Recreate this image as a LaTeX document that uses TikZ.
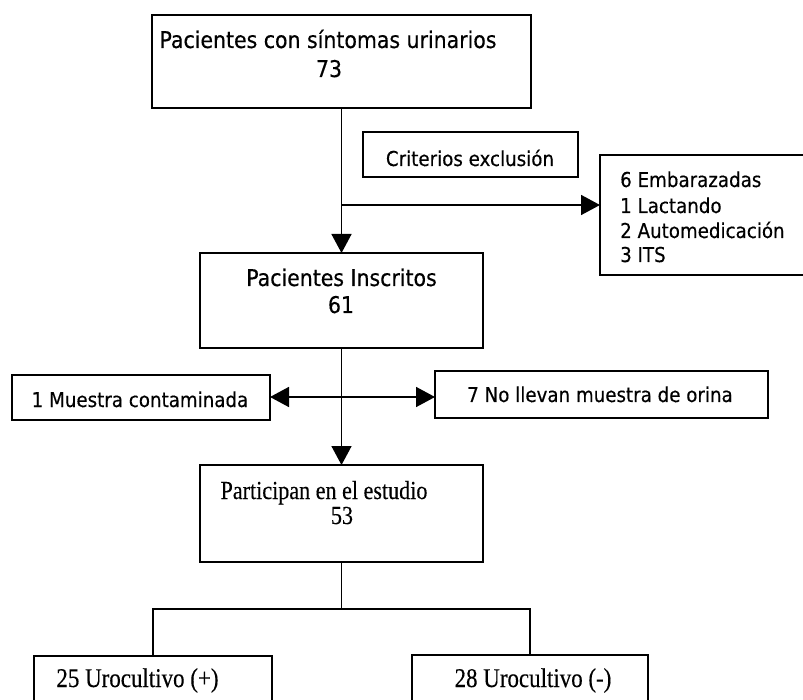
\documentclass[tikz,border=0pt]{standalone}
\usepackage{fontspec}
\usetikzlibrary{arrows.meta}
\newfontfamily\sfA[FakeStretch=0.89,FakeBold=0.35]{DejaVu Sans}
\newfontfamily\rmA[FakeStretch=0.85,FakeBold=0.3]{Liberation Serif}
\begin{document}
\begin{tikzpicture}[x=1pt,y=-1pt,
  box/.style={draw, line width=1.6pt, inner sep=0pt, outer sep=0pt},
  big/.style={font=\sfA\fontsize{23}{28}\selectfont, inner sep=0pt, anchor=base},
  small/.style={font=\sfA\fontsize{20.5}{25}\selectfont, inner sep=0pt, anchor=base},
  serif/.style={font=\rmA\fontsize{27}{30}\selectfont, inner sep=0pt, anchor=base},
  conn/.style={line width=1.6pt},
  arr/.style={line width=1.6pt, -{Triangle[length=19pt,width=20pt]}}]
\useasboundingbox (0,0) rectangle (803,700);
\clip (0,0) rectangle (803,700);
% boxes
\node[box, minimum width=379pt, minimum height=93pt] (top) at (341.5,61.5) {};
\node[box, minimum width=215pt, minimum height=45pt] (crit) at (470.5,154.5) {};
\node[box, minimum width=230pt, minimum height=120pt] (excl) at (715,215) {};
\node[box, minimum width=283pt, minimum height=95pt] (ins) at (341.5,300.5) {};
\node[box, minimum width=258pt, minimum height=45pt] (mue) at (141,397.5) {};
\node[box, minimum width=333pt, minimum height=47pt] (nol) at (601.5,394.5) {};
\node[box, minimum width=283pt, minimum height=97pt] (par) at (341.5,513.5) {};
\node[box, minimum width=238pt, minimum height=70pt] (uro1) at (153,691) {};
\node[box, minimum width=236pt, minimum height=70pt] (uro2) at (530,690) {};
% texts
\node[big] (topa) at (328,48) {Pacientes con síntomas urinarios};
\node[big] (topb) at (329,77) {73};
\node[small] (crita) at (470,166) {Criterios exclusión};
\node[small, anchor=base west] (e1) at (620,187) {6 Embarazadas};
\node[small, anchor=base west] (e2) at (620,213) {1 Lactando};
\node[small, anchor=base west] (e3) at (620,238) {2 Automedicación};
\node[small, anchor=base west] (e4) at (620,262) {3 ITS};
\node[big] (insa) at (341.5,286) {Pacientes Inscritos};
\node[big] (insb) at (341,313) {61};
\node[small] (muea) at (140,407) {1 Muestra contaminada};
\node[small] (nola) at (600,402) {7 No llevan muestra de orina};
\node[serif, font=\rmA\fontsize{26}{30}\selectfont] (para) at (324,499) {Participan en el estudio};
\node[serif, font=\rmA\fontsize{26}{30}\selectfont] (parb) at (342,524) {53};
\node[serif] (uro1a) at (137.5,687) {25 Urocultivo (+)};
\node[serif] (uro2a) at (533,687) {28 Urocultivo (-)};
% connectors
\coordinate (j1) at (341.5,205);
\coordinate (j2) at (341.5,397);
\coordinate (j3) at (341.5,609);
\draw[arr] (top.south) -- (ins.north);
\draw[arr] (j1) -- (j1 -| excl.west);
\draw[arr] (ins.south) -- (par.north);
\draw[arr] (j2) -- (j2 -| mue.east);
\draw[arr] (j2) -- (j2 -| nol.west);
\draw[conn] (par.south) -- (j3);
\draw[conn] (uro1.north) |- (j3) -| (uro2.north);
\end{tikzpicture}
\end{document}
